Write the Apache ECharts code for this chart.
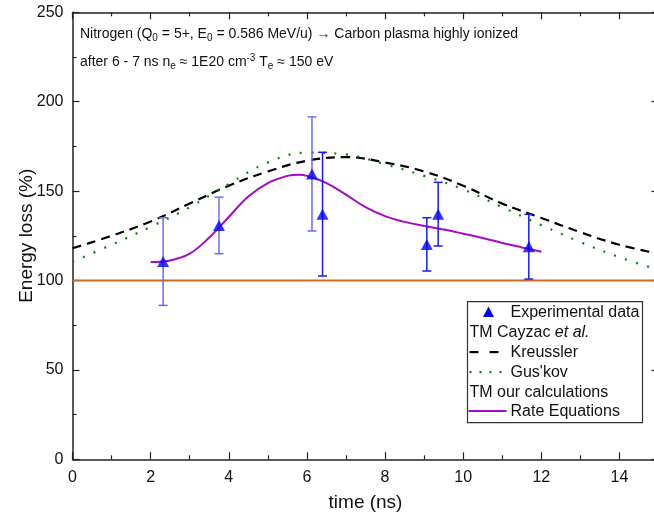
<!DOCTYPE html>
<html>
<head>
<meta charset="utf-8">
<script src="https://cdn.jsdelivr.net/npm/echarts@6/dist/echarts.min.js"></script>
<style>
  html, body { margin: 0; padding: 0; background: #fff; }
  #chart { width: 654px; height: 522px; }
</style>
</head>
<body>
<div id="chart"></div>
<script>
// experimental points (triangles) with symmetric error
const expTime = [2.32, 3.75, 6.13, 6.40, 9.07, 9.36, 11.68];
const expLoss = [110.6, 130.8, 159.6, 137.1, 120.2, 137.1, 118.9];
const expErr = [24.5, 15.8, 31.9, 34.6, 14.9, 17.8, 18.1];
const expFaded = [true, true, true, false, false, false, false];

// TM Cayzac et al. - Kreussler / Gus'kov
const theoryTime = [0, 1, 2, 3, 4, 5, 6, 7, 8, 9, 10, 11, 12, 13, 14, 15];
const kreusslerLoss = [118, 125, 133, 143, 153, 161, 167, 169, 166, 161, 153, 143, 135, 127, 120, 115];
const guskovLoss = [110.5, 120, 130, 141, 154, 166, 171.5, 170.5, 165, 158.5, 151, 141, 131, 121.5, 113, 106];

// TM our calculations - rate equations
const rateTime = [2.0, 2.5, 3.0, 3.5, 4.0, 4.5, 5.0, 5.5, 5.8, 6.0, 6.5, 7.0, 7.5, 8.0, 8.5, 9.0, 9.5, 10.0, 10.5, 11.0, 11.5, 12.0];
const rateLoss = [110.3, 111.2, 115, 124, 135.5, 147, 154.5, 158.5, 159.2, 158.5, 154.5, 148, 141, 136, 132.8, 130.5, 128.5, 126.2, 123.8, 121, 118.5, 116.1];

const refLevel = 100;
const xTicks = [0, 15, 2];
const yTicks = [0, 250, 50];

const FONT = '"Liberation Sans", Arial, Helvetica, sans-serif';
const pair = (xs, ys) => xs.map((x, i) => [x, ys[i]]);

const chart = echarts.init(document.getElementById('chart'), null, { renderer: 'canvas' });

const axisCommon = {
  axisLine: { show: true, onZero: false, lineStyle: { color: '#222', width: 1.5 } },
  axisTick: { show: true, inside: true, length: 7, lineStyle: { color: '#222', width: 1.2 } },
  minorTick: { show: true, splitNumber: 2, length: 4, lineStyle: { color: '#222', width: 1.2 } },
  splitLine: { show: false },
  minorSplitLine: { show: false }
};

const xBase = { type: 'value', min: xTicks[0], max: xTicks[1], interval: xTicks[2], ...axisCommon };
const yBase = { type: 'value', min: yTicks[0], max: yTicks[1], interval: yTicks[2], ...axisCommon };

const legendX = 466, legendY = 301;

chart.setOption({
  animation: false,
  backgroundColor: '#fff',
  textStyle: { fontFamily: FONT },
  grid: { left: 72.5, top: 12.3, width: 586, height: 447, containLabel: false, outerBoundsMode: 'none' },
  xAxis: [
    {
      ...xBase,
      position: 'bottom',
      name: 'time (ns)',
      nameLocation: 'middle',
      nameGap: 34,
      nameTextStyle: { fontSize: 19, color: '#111', fontFamily: FONT },
      axisLabel: { fontSize: 16, color: '#111', margin: 10, showMaxLabel: false, fontFamily: FONT }
    },
    { ...xBase, position: 'top', axisLabel: { show: false } }
  ],
  yAxis: [
    {
      ...yBase,
      position: 'left',
      name: 'Energy loss (%)',
      nameLocation: 'middle',
      nameGap: 36,
      nameMoveOverlap: false,
      nameTextStyle: { fontSize: 19, color: '#111', fontFamily: FONT },
      axisLabel: { fontSize: 16, color: '#111', margin: 9, fontFamily: FONT }
    },
    { ...yBase, position: 'right', axisLabel: { show: false } }
  ],
  series: [
    {
      name: 'reference',
      type: 'line',
      data: [[xTicks[0], refLevel], [xTicks[1], refLevel]],
      showSymbol: false,
      lineStyle: { color: '#cc6a1f', width: 1.8 },
      z: 2
    },
    {
      name: 'Kreussler',
      type: 'line',
      smooth: 0.4,
      data: pair(theoryTime, kreusslerLoss),
      showSymbol: false,
      lineStyle: { color: '#000', width: 2.2, type: [9, 6] },
      z: 3
    },
    {
      name: "Gus'kov",
      type: 'line',
      smooth: 0.4,
      data: pair(theoryTime, guskovLoss),
      showSymbol: false,
      lineStyle: { color: '#008a00', width: 2.2, type: [2, 9.5] },
      z: 3
    },
    {
      name: 'Rate Equations',
      type: 'line',
      smooth: 0.4,
      data: pair(rateTime, rateLoss),
      showSymbol: false,
      lineStyle: { color: '#a40cc4', width: 2 },
      z: 4
    },
    {
      name: 'error',
      type: 'custom',
      data: expTime.map((t, i) => [t, expLoss[i] - expErr[i], expLoss[i] + expErr[i], expFaded[i] ? 1 : 0]),
      renderItem: (params, api) => {
        const lo = api.coord([api.value(0), api.value(1)]);
        const hi = api.coord([api.value(0), api.value(2)]);
        const color = api.value(3) ? '#6b6bff' : '#1a1aff';
        const w = 4.5;
        const style = { stroke: color, lineWidth: 1.5 };
        return {
          type: 'group',
          children: [
            { type: 'line', shape: { x1: lo[0], y1: lo[1], x2: hi[0], y2: hi[1] }, style },
            { type: 'line', shape: { x1: lo[0] - w, y1: lo[1], x2: lo[0] + w, y2: lo[1] }, style },
            { type: 'line', shape: { x1: hi[0] - w, y1: hi[1], x2: hi[0] + w, y2: hi[1] }, style }
          ]
        };
      },
      z: 5
    },
    {
      name: 'Experimental data',
      type: 'scatter',
      data: pair(expTime, expLoss),
      symbol: 'triangle',
      symbolSize: [12, 11],
      itemStyle: { color: '#0000ff' },
      z: 6
    }
  ],
  graphic: [
    {
      type: 'text', left: 80, top: 27, z: 10,
      style: {
        text: 'Nitrogen (Q{sub|0} = 5+, E{sub|0} = 0.586 MeV/u) \u2192 Carbon plasma highly ionized',
        font: '14px ' + FONT, fill: '#111',
        rich: { sub: { fontSize: 10, padding: [8, 0, 0, 0], fontFamily: FONT } }
      }
    },
    {
      type: 'text', left: 80, top: 53, z: 10,
      style: {
        text: 'after 6 - 7 ns n{sub|e} \u2248 1E20 cm{sup|-3} T{sub|e} \u2248 150 eV',
        font: '14px ' + FONT, fill: '#111',
        rich: {
          sub: { fontSize: 10, padding: [8, 0, 0, 0], fontFamily: FONT },
          sup: { fontSize: 10, padding: [0, 0, 8, 0], fontFamily: FONT }
        }
      }
    },
    // legend box
    {
      type: 'group', left: legendX, top: legendY, z: 20,
      children: [
        { type: 'rect', shape: { x: 0, y: 0, width: 175, height: 121 }, style: { fill: '#fff', stroke: '#333', lineWidth: 1.2 } },
        { type: 'polygon', shape: { points: [[15.5, 15.5], [26.5, 15.5], [21, 5]] }, style: { fill: '#0000ff' } },
        { type: 'text', x: 43, y: 11, style: { text: 'Experimental data', font: '16px ' + FONT, fill: '#111', verticalAlign: 'middle' } },
        { type: 'text', x: 2, y: 30.5, style: { text: 'TM Cayzac {it|et al.}', font: '16px ' + FONT, fill: '#111', verticalAlign: 'middle',
          rich: { it: { fontStyle: 'italic', fontSize: 16, fontFamily: FONT } } } },
        { type: 'line', shape: { x1: 2, y1: 50.5, x2: 11, y2: 50.5 }, style: { stroke: '#000', lineWidth: 2.2 } },
        { type: 'line', shape: { x1: 22, y1: 50.5, x2: 31, y2: 50.5 }, style: { stroke: '#000', lineWidth: 2.2 } },
        { type: 'text', x: 43, y: 50.5, style: { text: 'Kreussler', font: '16px ' + FONT, fill: '#111', verticalAlign: 'middle' } },
        { type: 'line', shape: { x1: 2, y1: 70.5, x2: 34, y2: 70.5 }, style: { stroke: '#008a00', lineWidth: 2.2, lineDash: [2, 8] } },
        { type: 'text', x: 43, y: 70.5, style: { text: "Gus'kov", font: '16px ' + FONT, fill: '#111', verticalAlign: 'middle' } },
        { type: 'text', x: 2, y: 90.5, style: { text: 'TM our calculations', font: '16px ' + FONT, fill: '#111', verticalAlign: 'middle' } },
        { type: 'line', shape: { x1: 1, y1: 109.5, x2: 39, y2: 109.5 }, style: { stroke: '#a40cc4', lineWidth: 2 } },
        { type: 'text', x: 43, y: 109.5, style: { text: 'Rate Equations', font: '16px ' + FONT, fill: '#111', verticalAlign: 'middle' } }
      ]
    }
  ]
});
</script>
</body>
</html>
